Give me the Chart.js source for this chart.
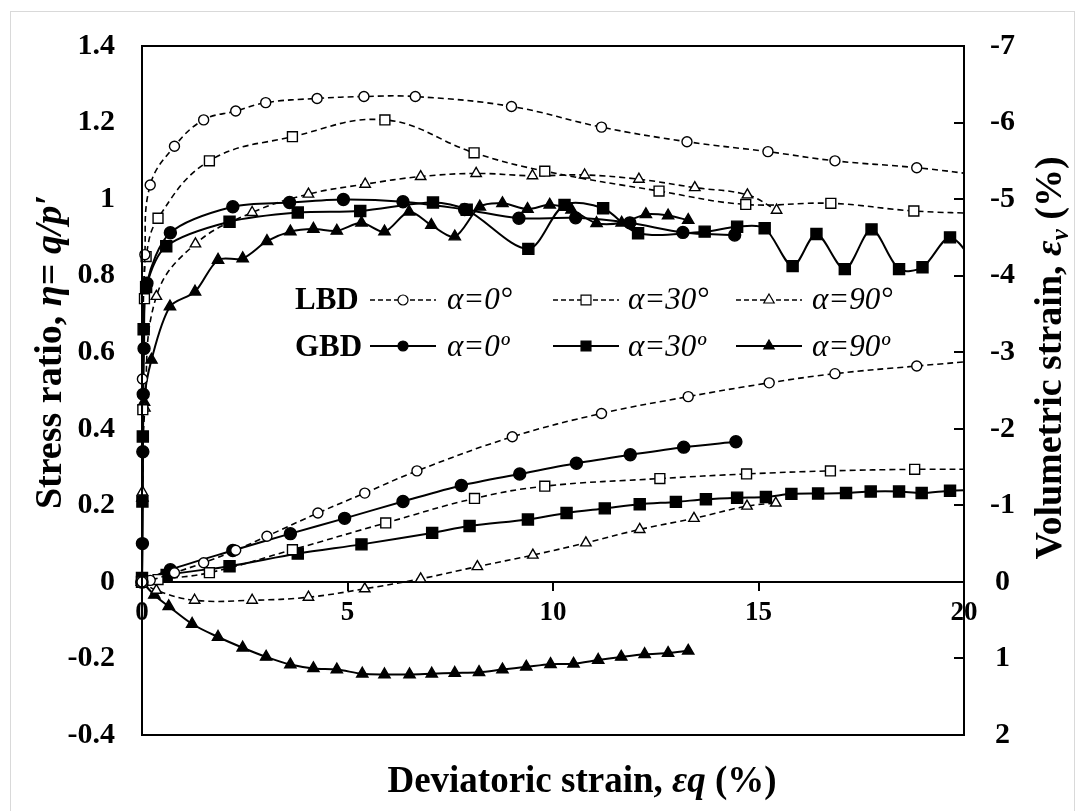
<!DOCTYPE html>
<html>
<head>
<meta charset="utf-8">
<script src="https://cdn.jsdelivr.net/npm/chart.js@4/dist/chart.umd.min.js"></script>
<style>
  html, body { margin: 0; padding: 0; background: #fff; }
  canvas { display: block; }
</style>
</head>
<body>
<canvas id="myChart" width="1075" height="811"></canvas>
<script>
const serif = '"Liberation Serif", "Times New Roman", serif';

// axis ticks
const strainTicks = [0, 5, 10, 15, 20];
const ratioTicks = [-0.4, -0.2, 0, 0.2, 0.4, 0.6, 0.8, 1, 1.2, 1.4];
const volTicks = [-7, -6, -5, -4, -3, -2, -1, 0, 1, 2];

// LBD - stress ratio
const lbd0RatioStrain = [0, 0.01, 0.07, 0.2, 0.79, 1.5, 2.28, 3.01, 4.26, 5.4, 6.65, 8.99, 11.18, 13.26, 15.23, 16.86, 18.85, 20.6];
const lbd0Ratio = [0, 0.53, 0.855, 1.037, 1.138, 1.207, 1.23, 1.252, 1.263, 1.268, 1.268, 1.242, 1.188, 1.15, 1.124, 1.1, 1.082, 1.06];
const lbd30RatioStrain = [0, 0.02, 0.06, 0.1, 0.39, 1.64, 3.66, 5.91, 8.08, 9.8, 12.58, 14.69, 16.76, 18.78, 20.6];
const lbd30Ratio = [0, 0.45, 0.74, 0.85, 0.95, 1.1, 1.163, 1.207, 1.121, 1.073, 1.021, 0.986, 0.989, 0.969, 0.962];
const lbd90RatioStrain = [0, 0.01, 0.07, 0.35, 1.3, 2.68, 4.05, 5.43, 6.78, 8.13, 9.5, 10.77, 12.09, 13.45, 14.73, 15.44];
const lbd90Ratio = [0, 0.235, 0.454, 0.746, 0.883, 0.965, 1.013, 1.039, 1.059, 1.067, 1.061, 1.063, 1.052, 1.03, 1.011, 0.971];

// GBD - stress ratio
const gbd0RatioStrain = [0, 0.01, 0.02, 0.03, 0.05, 0.12, 0.69, 2.21, 3.59, 4.9, 6.35, 7.85, 9.17, 10.55, 11.87, 13.16, 14.42];
const gbd0Ratio = [0, 0.1, 0.34, 0.49, 0.61, 0.78, 0.912, 0.98, 0.991, 0.999, 0.993, 0.973, 0.95, 0.951, 0.938, 0.913, 0.906];
const gbd30RatioStrain = [0, 0.01, 0.02, 0.04, 0.1, 0.59, 2.13, 3.79, 5.31, 7.08, 7.9, 9.4, 10.28, 11.22, 12.07, 13.69, 14.48, 15.15, 15.83, 16.41, 17.1, 17.75, 18.42, 18.99, 19.66, 20.35];
const gbd30Ratio = [0.01, 0.21, 0.38, 0.66, 0.77, 0.877, 0.941, 0.965, 0.969, 0.991, 0.972, 0.87, 0.985, 0.976, 0.911, 0.915, 0.928, 0.924, 0.825, 0.909, 0.817, 0.921, 0.817, 0.822, 0.9, 0.82];
const gbd90RatioStrain = [0, 0.01, 0.05, 0.23, 0.68, 1.29, 1.85, 2.45, 3.04, 3.61, 4.17, 4.74, 5.34, 5.9, 6.5, 7.04, 7.61, 8.22, 8.77, 9.38, 9.92, 10.45, 11.06, 11.67, 12.26, 12.8, 13.29];
const gbd90Ratio = [0, 0.22, 0.47, 0.58, 0.719, 0.758, 0.841, 0.845, 0.89, 0.915, 0.922, 0.917, 0.938, 0.915, 0.967, 0.932, 0.902, 0.98, 0.989, 0.974, 0.985, 0.972, 0.937, 0.938, 0.96, 0.957, 0.945];

// LBD - volumetric strain
const lbd0VolStrain = [0, 0.2, 0.79, 1.5, 2.28, 3.04, 4.28, 5.42, 6.69, 9.01, 11.18, 13.29, 15.26, 16.86, 18.85, 20.6];
const lbd0Vol = [0, -0.02, -0.12, -0.25, -0.414, -0.597, -0.9, -1.16, -1.45, -1.895, -2.2, -2.42, -2.6, -2.72, -2.82, -2.9];
const lbd30VolStrain = [0, 0.39, 1.64, 3.66, 5.93, 8.09, 9.8, 12.6, 14.71, 16.75, 18.8, 20.6];
const lbd30Vol = [0, -0.03, -0.12, -0.42, -0.77, -1.09, -1.25, -1.35, -1.41, -1.45, -1.47, -1.47];
const lbd90VolStrain = [0, 0.35, 1.28, 2.68, 4.05, 5.42, 6.78, 8.16, 9.51, 10.8, 12.11, 13.43, 14.72, 15.42];
const lbd90Vol = [0, 0.11, 0.24, 0.24, 0.2, 0.09, -0.04, -0.2, -0.35, -0.51, -0.685, -0.83, -0.99, -1.03];

// GBD - volumetric strain
const gbd0VolStrain = [0, 0.69, 2.21, 3.61, 4.93, 6.35, 7.77, 9.19, 10.57, 11.88, 13.18, 14.45];
const gbd0Vol = [0, -0.16, -0.41, -0.63, -0.83, -1.05, -1.26, -1.41, -1.55, -1.66, -1.76, -1.83];
const gbd30VolStrain = [0, 0.6, 2.13, 3.79, 5.34, 7.06, 7.97, 9.39, 10.33, 11.26, 12.11, 12.99, 13.72, 14.48, 15.18, 15.8, 16.45, 17.13, 17.73, 18.42, 18.97, 19.66, 20.3];
const gbd30Vol = [0, -0.09, -0.205, -0.37, -0.49, -0.64, -0.73, -0.815, -0.9, -0.96, -1.015, -1.045, -1.08, -1.1, -1.11, -1.15, -1.155, -1.16, -1.18, -1.18, -1.16, -1.19, -1.2];
const gbd90VolStrain = [0, 0.3, 0.65, 1.22, 1.85, 2.45, 3.02, 3.61, 4.17, 4.74, 5.36, 5.9, 6.51, 7.05, 7.61, 8.2, 8.77, 9.35, 9.94, 10.5, 11.1, 11.66, 12.23, 12.8, 13.29];
const gbd90Vol = [0, 0.17, 0.32, 0.55, 0.72, 0.86, 0.98, 1.08, 1.13, 1.145, 1.2, 1.21, 1.21, 1.2, 1.19, 1.18, 1.145, 1.11, 1.075, 1.07, 1.02, 0.98, 0.945, 0.93, 0.9];

// marker size per shape (open / filled)
const markerSize = {
  circle: [5, 6],
  rect: [7, 7.8],
  triangle: [6, 6.5],
};

const pairs = (xs, ys) => xs.map((x, i) => ({ x: x, y: ys[i] }));

const makeSeries = (label, xs, ys, shape, filled, axis) => ({
  label: label,
  data: pairs(xs, ys),
  xAxisID: 'x',
  yAxisID: axis,
  borderColor: '#000',
  borderWidth: filled ? 2 : 1.6,
  borderDash: filled ? [] : [6, 4],
  tension: filled ? 0.3 : 0.4,
  fill: false,
  pointStyle: shape,
  pointRadius: markerSize[shape][filled ? 1 : 0],
  pointBackgroundColor: filled ? '#000' : '#fff',
  pointBorderColor: '#000',
  pointBorderWidth: 1.4,
  clip: { left: 12, top: 0, right: 0, bottom: 12 },
});

const datasets = [
  makeSeries('LBD 0', lbd0RatioStrain, lbd0Ratio, 'circle', false, 'y'),
  makeSeries('LBD 30', lbd30RatioStrain, lbd30Ratio, 'rect', false, 'y'),
  makeSeries('LBD 90', lbd90RatioStrain, lbd90Ratio, 'triangle', false, 'y'),
  makeSeries('GBD 0', gbd0RatioStrain, gbd0Ratio, 'circle', true, 'y'),
  makeSeries('GBD 30', gbd30RatioStrain, gbd30Ratio, 'rect', true, 'y'),
  makeSeries('GBD 90', gbd90RatioStrain, gbd90Ratio, 'triangle', true, 'y'),
  makeSeries('LBD 0 vol', lbd0VolStrain, lbd0Vol, 'circle', false, 'y2'),
  makeSeries('LBD 30 vol', lbd30VolStrain, lbd30Vol, 'rect', false, 'y2'),
  makeSeries('LBD 90 vol', lbd90VolStrain, lbd90Vol, 'triangle', false, 'y2'),
  makeSeries('GBD 0 vol', gbd0VolStrain, gbd0Vol, 'circle', true, 'y2'),
  makeSeries('GBD 30 vol', gbd30VolStrain, gbd30Vol, 'rect', true, 'y2'),
  makeSeries('GBD 90 vol', gbd90VolStrain, gbd90Vol, 'triangle', true, 'y2'),
];

// draws several text runs in a row, centred on (cx, baseline cy)
const drawRich = (ctx, parts, cx, cy, angle) => {
  ctx.save();
  ctx.translate(cx, cy);
  ctx.rotate(angle);
  ctx.textAlign = 'left';
  ctx.textBaseline = 'alphabetic';
  ctx.fillStyle = '#000';
  let total = 0;
  parts.forEach(p => { ctx.font = p.font; total += ctx.measureText(p.text).width; });
  let x = -total / 2;
  parts.forEach(p => {
    ctx.font = p.font;
    ctx.fillText(p.text, x, p.dy || 0);
    x += ctx.measureText(p.text).width;
  });
  ctx.restore();
};

const boldFont = (size) => `bold ${size}px ${serif}`;
const boldItalic = (size) => `italic bold ${size}px ${serif}`;
const italicFont = (size) => `italic ${size}px ${serif}`;

const framePlugin = {
  id: 'frame',
  beforeDraw(chart) {
    const ctx = chart.ctx;
    ctx.save();
    ctx.fillStyle = '#fff';
    ctx.fillRect(0, 0, chart.width, chart.height);
    ctx.strokeStyle = '#d9d9d9';
    ctx.lineWidth = 1;
    ctx.strokeRect(10.5, 11.5, chart.width - 11, chart.height);
    ctx.restore();
  },
  afterDatasetsDraw(chart) {
    const { ctx, chartArea } = chart;
    const y2 = chart.scales.y2;
    ctx.save();
    ctx.strokeStyle = '#000';
    ctx.lineWidth = 2;
    ctx.strokeRect(chartArea.left, chartArea.top, chartArea.right - chartArea.left, chartArea.bottom - chartArea.top);
    // inward tick marks on the secondary axis
    ctx.beginPath();
    volTicks.forEach(v => {
      const py = Math.round(y2.getPixelForValue(v));
      ctx.moveTo(chartArea.right - 10, py);
      ctx.lineTo(chartArea.right, py);
    });
    ctx.stroke();
    ctx.restore();
  },
};

const legendRows = [
  { name: 'LBD', filled: false, lineY: 300, baseY: 309, labels: ['α=0°', 'α=30°', 'α=90°'] },
  { name: 'GBD', filled: true, lineY: 346, baseY: 356, labels: ['α=0º', 'α=30º', 'α=90º'] },
];
const legendShapes = ['circle', 'rect', 'triangle'];
const legendSampleX = [[370, 436], [553, 619], [736, 802]];
const legendTextX = [447, 628, 812];

const textPlugin = {
  id: 'texts',
  afterDraw(chart) {
    const ctx = chart.ctx;
    // axis titles
    drawRich(ctx, [
      { text: 'Deviatoric strain, ', font: boldFont(37) },
      { text: 'εq', font: boldItalic(37) },
      { text: ' (%)', font: boldFont(37) },
    ], 582, 792, 0);
    drawRich(ctx, [
      { text: 'Stress ratio, ', font: boldFont(38) },
      { text: 'η', font: boldItalic(38) },
      { text: '= ', font: boldFont(38) },
      { text: 'q/p′', font: boldItalic(38) },
    ], 61, 352, -Math.PI / 2);
    drawRich(ctx, [
      { text: 'Volumetric strain, ', font: boldFont(38) },
      { text: 'ε', font: boldItalic(38) },
      { text: 'v', font: boldItalic(25), dy: 7 },
      { text: ' (%)', font: boldFont(38) },
    ], 1061, 358, -Math.PI / 2);

    // legend
    ctx.save();
    legendRows.forEach(row => {
      ctx.fillStyle = '#000';
      ctx.textAlign = 'left';
      ctx.textBaseline = 'alphabetic';
      ctx.font = boldFont(31);
      ctx.fillText(row.name, 295, row.baseY);
      legendShapes.forEach((shape, i) => {
        const [x1, x2] = legendSampleX[i];
        ctx.save();
        ctx.strokeStyle = '#000';
        ctx.lineWidth = row.filled ? 2 : 1.5;
        ctx.setLineDash(row.filled ? [] : [5, 3]);
        ctx.beginPath();
        ctx.moveTo(x1, row.lineY);
        ctx.lineTo(x2, row.lineY);
        ctx.stroke();
        ctx.setLineDash([]);
        ctx.fillStyle = row.filled ? '#000' : '#fff';
        ctx.lineWidth = 1.2;
        const r = { circle: 5, rect: 7, triangle: 6 }[shape];
        Chart.helpers.drawPoint(ctx, { pointStyle: shape, radius: r, rotation: 0, borderWidth: 1.2 }, (x1 + x2) / 2, row.lineY);
        ctx.restore();
        ctx.fillStyle = '#000';
        ctx.font = italicFont(31);
        ctx.fillText(row.labels[i], legendTextX[i], row.baseY);
      });
    });
    ctx.restore();
  },
};

const tickFont = { family: serif, size: 30, weight: 'bold' };
const fmt = v => String(Math.round(v * 10) / 10);

const ctx = document.querySelector('#myChart').getContext('2d');
const myChart = new Chart(ctx, {
  type: 'line',
  data: { datasets: datasets },
  plugins: [framePlugin, textPlugin],
  options: {
    responsive: false,
    animation: false,
    devicePixelRatio: 1,
    events: [],
    layout: { padding: { left: 0, top: 46, right: 0, bottom: 76 }, autoPadding: false },
    plugins: { legend: { display: false }, tooltip: { enabled: false } },
    scales: {
      x: {
        type: 'linear',
        axis: 'x',
        position: { y: 0 },
        min: 0,
        max: 20,
        afterBuildTicks: s => { s.ticks = strainTicks.map(v => ({ value: v })); },
        afterFit: s => { s.height = 0; },
        border: { display: true, color: '#000', width: 2 },
        grid: { display: true, drawOnChartArea: false, drawTicks: true, tickLength: 8, color: '#000', lineWidth: 2 },
        ticks: { color: '#000', font: { family: serif, size: 27, weight: 'bold' }, padding: 7, maxRotation: 0, autoSkip: false, callback: fmt },
      },
      y: {
        type: 'linear',
        position: 'left',
        min: -0.4,
        max: 1.4,
        afterBuildTicks: s => { s.ticks = ratioTicks.map(v => ({ value: v })); },
        afterFit: s => { s.width = 142; },
        border: { display: false },
        grid: { display: false, drawTicks: false },
        ticks: { color: '#000', font: tickFont, padding: 27, autoSkip: false, callback: fmt },
      },
      y2: {
        type: 'linear',
        axis: 'y',
        position: 'right',
        min: -7,
        max: 2,
        reverse: true,
        afterBuildTicks: s => { s.ticks = volTicks.map(v => ({ value: v })); },
        afterFit: s => { s.width = 111; },
        border: { display: false },
        grid: { display: false, drawTicks: false },
        ticks: { color: '#000', font: tickFont, padding: 26, crossAlign: 'center', autoSkip: false, callback: fmt },
      },
    },
  },
});
</script>
</body>
</html>
